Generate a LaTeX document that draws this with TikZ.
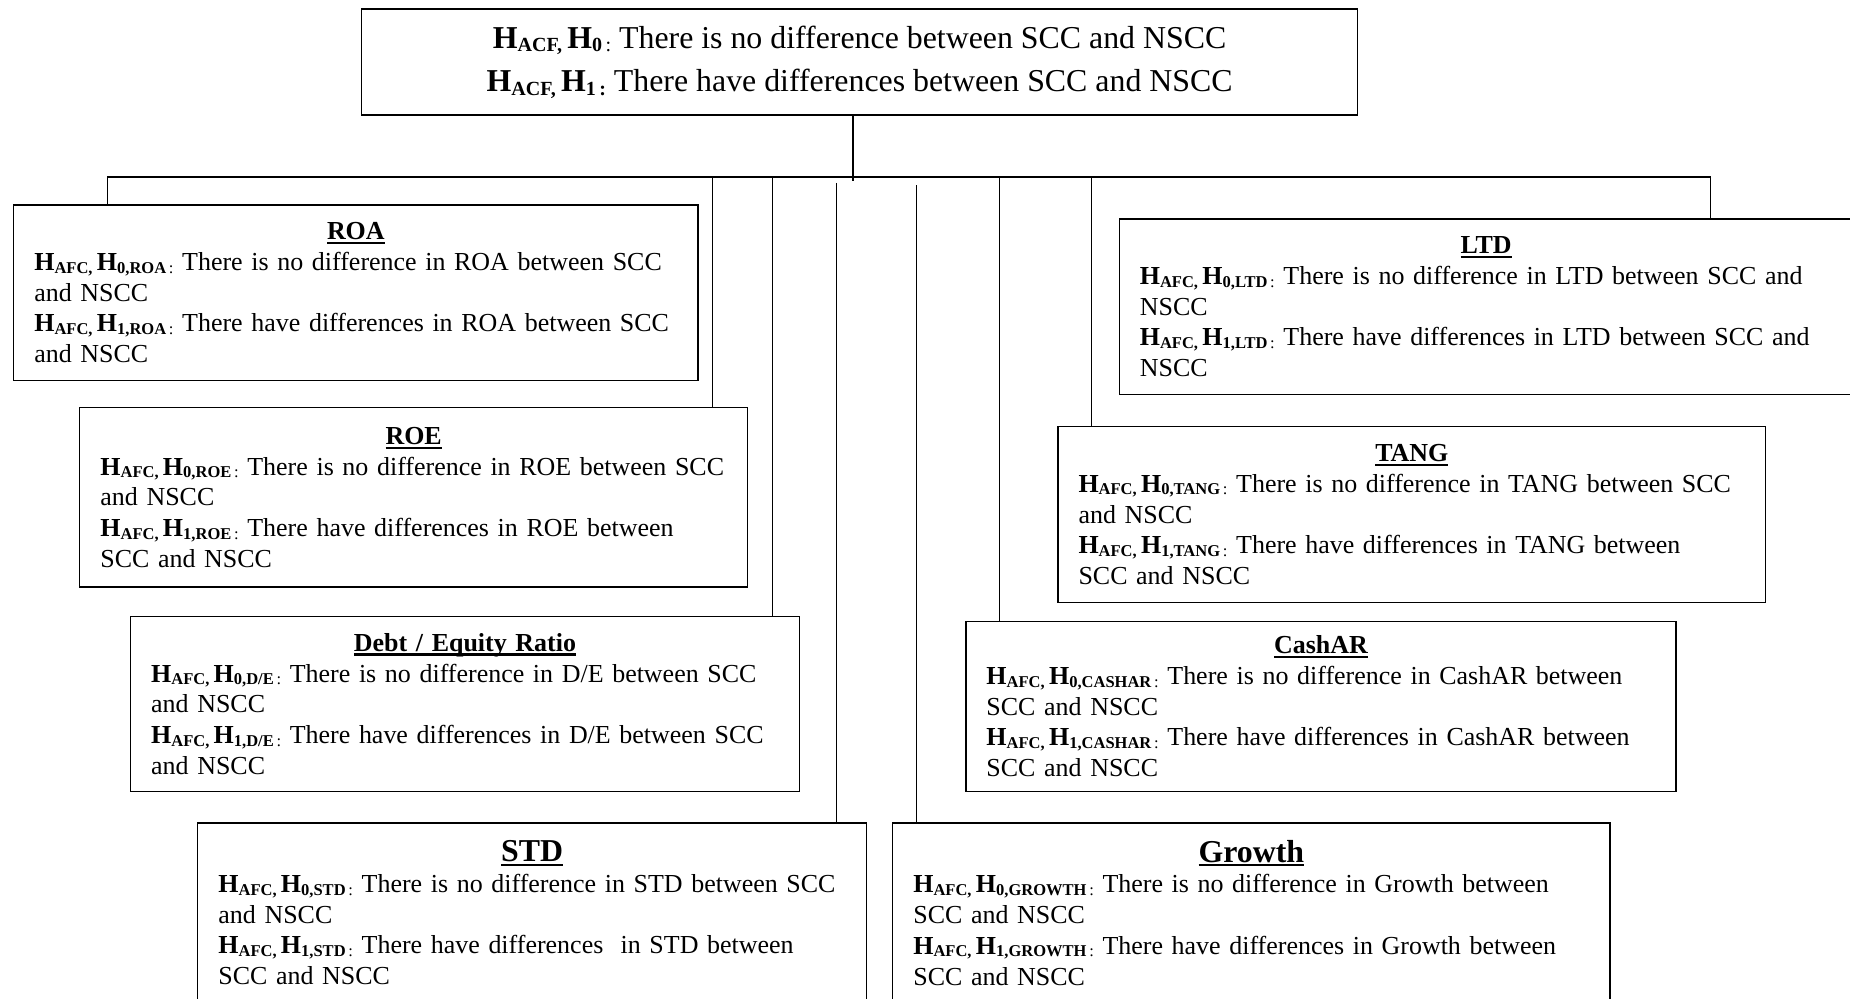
\documentclass[tikz,border=0pt]{standalone}
\usepackage{fontspec}
\setmainfont{Liberation Serif}
% bold, slightly lowered subscript of a given size
\newcommand\sbx[2]{\raisebox{-0.1em}{\fontsize{#1}{#1}\selectfont\bfseries #2}}
\newcommand\scol[1]{\raisebox{-0.1em}{\fontsize{#1}{#1}\selectfont\,:}}
% hypothesis label H_AFC, H_{n,VAR} :
\newcommand\hyp[2]{\textbf{H}\sbx{14}{AFC,}\,\textbf{H}\sbx{14}{#1,#2}\scol{14}\ }
% bold title with a heavy underline
\newcommand\ttl[1]{\setbox0\hbox{\bfseries #1}\rlap{\rule[-3.5pt]{\wd0}{1.8pt}}\box0}
\newcommand\boxtitle[1]{{\centering\ttl{#1}\par}}
\newcommand\bigtitle[1]{{\centering\fontsize{27}{30}\selectfont\ttl{#1}\par}}
\begin{document}
\begin{tikzpicture}[x=1pt,y=-1pt,
  box/.style={draw, line width=1.2pt, rectangle, anchor=north west,
    inner xsep=17.5pt, inner ysep=0pt, font=\fontsize{22}{26}\selectfont, align=left},
  link/.style={line width=1.1pt},
  bus/.style={line width=1.5pt}]
\useasboundingbox (0,0) rectangle (1568,846);
\clip (0,0) rectangle (1568,846);

% main hypothesis
\node[draw, line width=1.2pt, anchor=north west, minimum width=844pt, minimum height=90pt,
  inner sep=0pt, align=center, font=\fontsize{27}{37}\selectfont] (top) at (306,7)
  {\raisebox{-2pt}{\textbf{H}\sbx{17}{ACF,}\,\textbf{H}\sbx{17}{0}\scol{17}\ There is no difference between SCC and NSCC}\\
   \raisebox{-2pt}{\textbf{H}\sbx{17}{ACF,}\,\textbf{H}\sbx{17}{1\,:}\ There have differences between SCC and NSCC}};

% left column
\node[box, text width=545pt, minimum height=149pt] (roa) at (11,173)
  {\boxtitle{ROA}
   \hyp{0}{ROA}There is no difference in ROA between SCC\\
   and NSCC\\
   \hyp{1}{ROA}There have differences in ROA between SCC\\
   and NSCC};
\node[box, text width=531pt, minimum height=152pt] (roe) at (67,345)
  {\boxtitle{ROE}
   \hyp{0}{ROE}There is no difference in ROE between SCC\\
   and NSCC\\
   \hyp{1}{ROE}There have differences in ROE between\\
   SCC and NSCC};
\node[box, text width=532pt, minimum height=148pt] (de) at (110,522)
  {\boxtitle{Debt / Equity Ratio}
   \hyp{0}{D/E}There is no difference in D/E between SCC\\
   and NSCC\\
   \hyp{1}{D/E}There have differences in D/E between SCC\\
   and NSCC};
\node[box, text width=532pt, minimum height=152pt] (std) at (167,697)
  {\bigtitle{STD}
   \hyp{0}{STD}There is no difference in STD between SCC\\
   and NSCC\\
   \hyp{1}{STD}There have differences~ in STD between\\
   SCC and NSCC};

% right column
\node[box, text width=587pt, minimum height=149pt] (ltd) at (948,185)
  {\boxtitle{LTD}
   \hyp{0}{LTD}There is no difference in LTD between SCC and\\
   NSCC\\
   \hyp{1}{LTD}There have differences in LTD between SCC and\\
   NSCC};
\node[box, text width=565pt, minimum height=149pt] (tang) at (896,361)
  {\boxtitle{TANG}
   \hyp{0}{TANG}There is no difference in TANG between SCC\\
   and NSCC\\
   \hyp{1}{TANG}There have differences in TANG between\\
   SCC and NSCC};
\node[box, text width=567pt, minimum height=144pt] (cashar) at (818,526)
  {\boxtitle{CashAR}
   \hyp{0}{CASHAR}There is no difference in CashAR between\\
   SCC and NSCC\\
   \hyp{1}{CASHAR}There have differences in CashAR between\\
   SCC and NSCC};
\node[box, text width=573pt, minimum height=152pt] (growth) at (756,697)
  {\bigtitle{Growth}
   \hyp{0}{GROWTH}There is no difference in Growth between\\
   SCC and NSCC\\
   \hyp{1}{GROWTH}There have differences in Growth between\\
   SCC and NSCC};

% connector tree
\coordinate (stem) at (723,153);
\coordinate (busL) at (91,150);
\coordinate (busR) at (1450,150);
\coordinate (tRoe) at (604,150);
\coordinate (tDe) at (655,150);
\coordinate (tStd) at (709,155);
\coordinate (tGrowth) at (777,157);
\coordinate (tCash) at (847,150);
\coordinate (tTang) at (925,150);

\draw[link] (stem |- top.south) -- (stem);
\draw[bus] (busL) -- (busR);
\draw[link] (busL) -- (busL |- roa.north);
\draw[link] (tRoe) -- (tRoe |- roe.north);
\draw[link] (tDe) -- (tDe |- de.north);
\draw[link] (tStd) -- (tStd |- std.north);
\draw[link] (tGrowth) -- (tGrowth |- growth.north);
\draw[link] (tCash) -- (tCash |- cashar.north);
\draw[link] (tTang) -- (tTang |- tang.north);
\draw[link] (busR) -- (busR |- ltd.north);
\end{tikzpicture}
\end{document}
